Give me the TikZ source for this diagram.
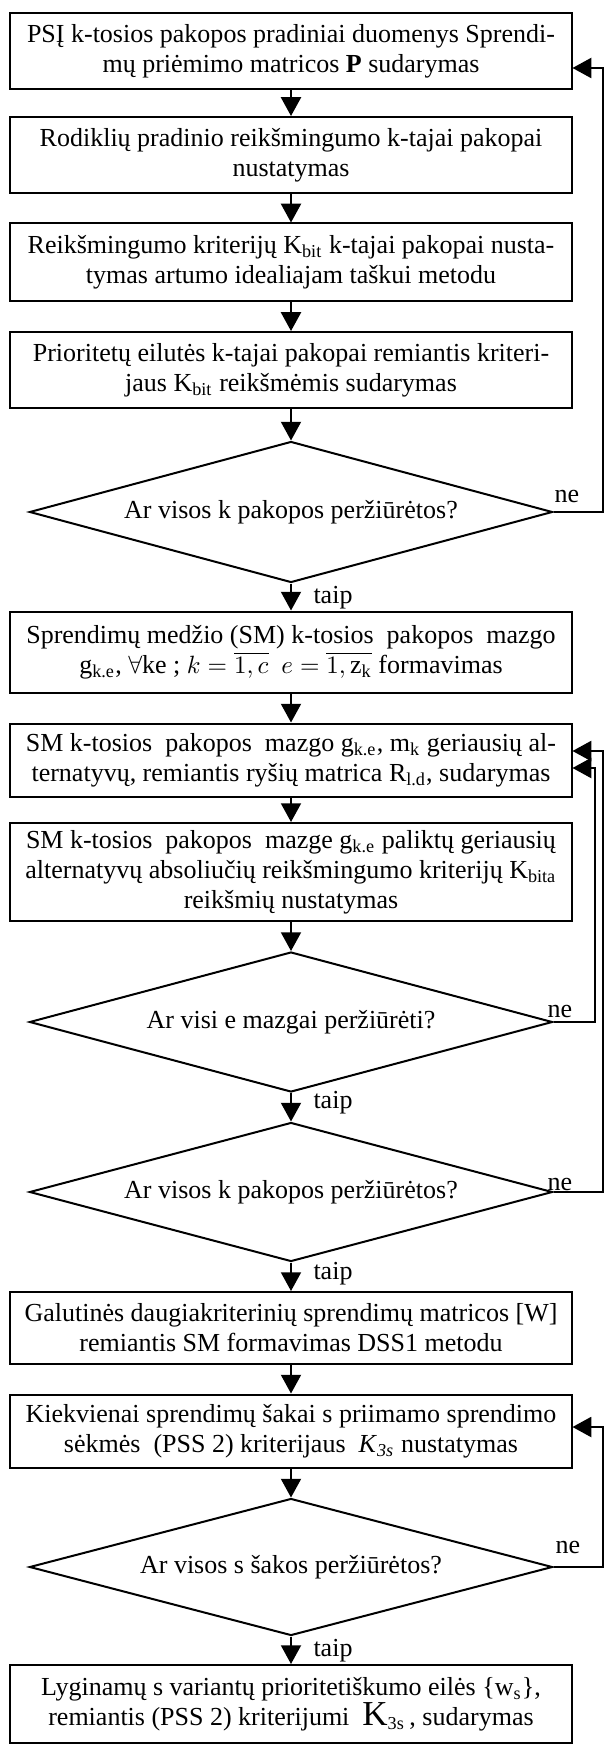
\documentclass[tikz,border=0pt]{standalone}
\usepackage{fontspec}
\setmainfont{Liberation Serif}
\usetikzlibrary{shapes.geometric,arrows.meta}
\tikzset{
	blokas/.style={draw,line width=0.8pt,minimum width=224.4pt,align=center,inner sep=0pt,font=\fontsize{10.4}{12}\selectfont},
	salyga/.style={draw,diamond,aspect=3.7,line width=0.8pt,minimum width=209.2pt,inner sep=0pt,font=\fontsize{10.4}{12}\selectfont},
	rodykle/.style={line width=0.8pt,-{Triangle[length=7.5pt,width=8pt]}},
	zyme/.style={inner sep=0pt,font=\fontsize{10.4}{12}\selectfont}
}
\begin{document}
\begin{tikzpicture}[x=0.4pt,y=-0.4pt]
	\useasboundingbox (0,0) rectangle (605,1745);
	\node[blokas,minimum height=30.4pt] (1) at (291,51) {PSĮ k-tosios pakopos pradiniai duomenys Sprendi-\\mų priėmimo matricos \textbf{P} sudarymas};
	\node[blokas,minimum height=30.4pt] (2) at (291,155) {Rodiklių pradinio reikšmingumo k-tajai pakopai\\nustatymas};
	\node[blokas,minimum height=30.8pt] (3) at (291,262) {Reikšmingumo kriterijų K\textsubscript{bit} k-tajai pakopai nusta-\\tymas artumo idealiajam taškui metodu};
	\node[blokas,minimum height=30.4pt] (4) at (291,370) {Prioritetų eilutės k-tajai pakopai remiantis kriteri-\\jaus K\textsubscript{bit} reikšmėmis sudarymas};
	\node[salyga,minimum height=56.4pt] (5) at (291,512) {Ar visos k pakopos peržiūrėtos?};
	\node[blokas,minimum height=32.4pt] (6) at (291,652) {Sprendimų medžio (SM) k-tosios\ \ pakopos\ \ mazgo\\g\textsubscript{k.e}, $\forall$ke ; $k=\overline{1,c}$\ \ $e=\overline{1,\mathrm{z}_\mathrm{k}}$\ formavimas};
	\node[blokas,minimum height=29.2pt] (7) at (291,760) {SM k-tosios\ \ pakopos\ \ mazgo g\textsubscript{k.e}, m\textsubscript{k} geriausių al-\\ternatyvų, remiantis ryšių matrica R\textsubscript{l.d}, sudarymas};
	\node[blokas,minimum height=39.2pt] (8) at (291,872) {SM k-tosios\ \ pakopos\ \ mazge g\textsubscript{k.e} paliktų geriausių\\alternatyvų absoliučių reikšmingumo kriterijų K\textsubscript{bita}\\reikšmių nustatymas};
	\node[salyga,minimum height=56pt] (9) at (291,1022) {Ar visi e mazgai peržiūrėti?};
	\node[salyga,minimum height=55.6pt] (10) at (291,1192) {Ar visos k pakopos peržiūrėtos?};
	\node[blokas,minimum height=28.8pt] (11) at (291,1328) {Galutinės daugiakriterinių sprendimų matricos [W]\\remiantis SM formavimas DSS1 metodu};
	\node[blokas,minimum height=29.2pt] (12) at (291,1431) {Kiekvienai sprendimų šakai s priimamo sprendimo\\sėkmės\ \ (PSS 2) kriterijaus\ \ \textit{K}\textsubscript{\textit{3s}} nustatymas};
	\node[salyga,minimum height=54.8pt] (13) at (291,1567) {Ar visos s šakos peržiūrėtos?};
	\node[blokas,minimum height=31.2pt] (14) at (291,1704) {Lyginamų s variantų prioritetiškumo eilės \{w\textsubscript{s}\},\\remiantis (PSS 2) kriterijumi\ \ {\fontsize{14}{12}\selectfont K}\textsubscript{3s}\,, sudarymas};
	\foreach \i in {1,...,13} {
		\pgfmathtruncatemacro\j{\i+1}
		\draw[rodykle] (\i) -- (\j);
	}
	\coordinate (k1) at (603,68);
	\coordinate (k2) at (603,751);
	\coordinate (k3) at (595,768);
	\coordinate (k4) at (603,1427);
	\draw[rodykle] (5.east) -| (k1) -- (k1 -| 1.east);
	\draw[rodykle] (10.east) -| (k2) -- (k2 -| 7.east);
	\draw[rodykle] (9.east) -| (k3) -- (k3 -| 7.east);
	\draw[rodykle] (13.east) -| (k4) -- (k4 -| 12.east);
	\node[zyme,anchor=base west] (t1) at (313,603) {taip};
	\node[zyme,anchor=base west] (t2) at (313,1108) {taip};
	\node[zyme,anchor=base west] (t3) at (313,1279) {taip};
	\node[zyme,anchor=base west] (t4) at (313,1656) {taip};
	\node[zyme,anchor=base west] (n1) at (554,502) {ne};
	\node[zyme,anchor=base west] (n2) at (547,1017) {ne};
	\node[zyme,anchor=base west] (n3) at (547,1190) {ne};
	\node[zyme,anchor=base west] (n4) at (555,1553) {ne};
\end{tikzpicture}
\end{document}
